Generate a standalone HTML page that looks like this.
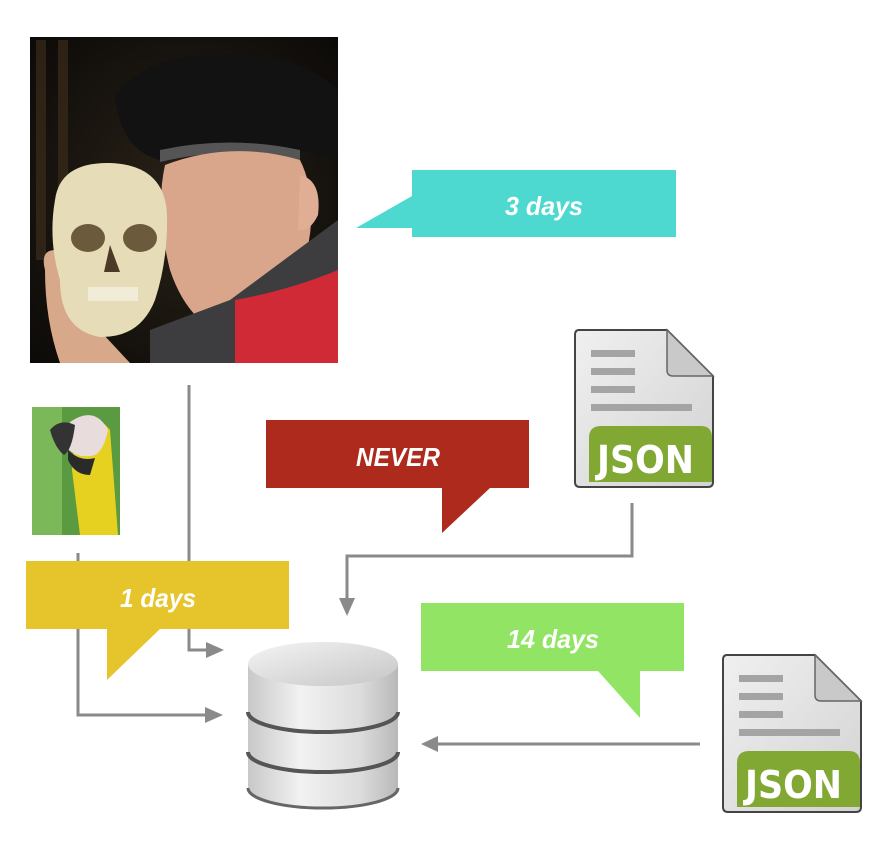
<!DOCTYPE html>
<html><head><meta charset="utf-8"><style>
html,body{margin:0;padding:0;background:#fff;}
svg{display:block}
text{font-family:"Liberation Sans",sans-serif;font-weight:bold;font-style:italic;fill:#fff}
</style></head><body>
<svg width="892" height="842" viewBox="0 0 892 842" xmlns="http://www.w3.org/2000/svg">
<defs>
<linearGradient id="cyl" x1="0" x2="1" y1="0" y2="0">
<stop offset="0" stop-color="#c8c8c8"/><stop offset="0.35" stop-color="#f2f2f2"/><stop offset="0.75" stop-color="#dcdcdc"/><stop offset="1" stop-color="#b8b8b8"/>
</linearGradient>
<linearGradient id="top" x1="0" x2="1" y1="0" y2="1">
<stop offset="0" stop-color="#f4f4f4"/><stop offset="1" stop-color="#c6c6c6"/>
</linearGradient>
<linearGradient id="doc" x1="0" x2="1" y1="0" y2="1">
<stop offset="0" stop-color="#f0f0f0"/><stop offset="1" stop-color="#d2d2d2"/>
</linearGradient>
<radialGradient id="bg" cx="0.5" cy="0.5" r="0.7"><stop offset="0" stop-color="#2a2218"/><stop offset="1" stop-color="#0c0a08"/></radialGradient>
<g id="json">
<path d="M4,0 H92 L138,46 V152 Q138,157 133,157 H5 Q0,157 0,152 V5 Q0,0 4,0Z" fill="url(#doc)" stroke="#444" stroke-width="2"/>
<path d="M92,0 V40 Q92,46 98,46 H138Z" fill="#c9c9c9" stroke="#666" stroke-width="1.5"/>
<rect x="16" y="20" width="44" height="7" fill="#a4a4a4"/>
<rect x="16" y="38" width="44" height="7" fill="#a4a4a4"/>
<rect x="16" y="56" width="44" height="7" fill="#a4a4a4"/>
<rect x="16" y="74" width="101" height="7" fill="#a4a4a4"/>
<path d="M14,108 Q14,96 26,96 H126 Q137,96 137,108 V152 H14Z" fill="#80a832"/>
<text x="22" y="143" textLength="97" lengthAdjust="spacingAndGlyphs" style="font-style:normal;font-family:'DejaVu Sans','Liberation Sans',sans-serif;font-size:38px;font-weight:bold">JSON</text>
</g>
</defs>

<!-- photo -->
<rect x="30" y="37" width="308" height="326" fill="url(#bg)"/>
<g fill="#3a2c1a" opacity="0.7">
<rect x="36" y="40" width="10" height="220"/><rect x="58" y="40" width="10" height="160"/><rect x="290" y="100" width="10" height="120"/>
</g>
<path d="M115,95 Q150,50 240,55 Q300,55 338,90 V160 L300,150 Q230,140 160,160 Q120,150 115,95Z" fill="#121212"/>
<path d="M160,150 Q230,135 300,150 L300,160 Q230,145 160,162Z" fill="#555"/>
<path d="M165,165 Q230,140 300,160 Q320,200 305,260 Q290,330 240,340 Q190,330 170,270 Q155,210 165,165Z" fill="#d9a68c"/>
<path d="M300,175 Q322,180 318,215 Q310,232 298,230Z" fill="#e0ae94"/>
<path d="M150,330 L230,300 L338,220 V363 H150Z" fill="#3d3d3f"/>
<path d="M235,300 Q290,290 338,270 V363 H235Z" fill="#cf2a36"/>
<path d="M45,270 Q40,250 55,250 L90,320 L130,363 H60 Q45,320 45,270Z" fill="#d7a88a"/>
<path d="M55,200 Q60,162 110,163 Q165,165 167,215 Q168,260 155,300 Q140,338 100,337 Q60,330 60,280 Q48,240 55,200Z" fill="#e6dcb8"/>
<ellipse cx="88" cy="238" rx="17" ry="14" fill="#6c5a3c"/><ellipse cx="140" cy="238" rx="17" ry="14" fill="#6c5a3c"/>
<path d="M110,245 L104,272 H120Z" fill="#4a3a26"/>
<rect x="88" y="287" width="50" height="14" fill="#f1ecd8"/>

<!-- parrot -->
<rect x="32" y="407" width="88" height="128" fill="#5a9a40"/>
<rect x="32" y="407" width="30" height="128" fill="#7ab85a"/>
<path d="M75,430 Q95,410 110,430 L118,535 H80 L72,470Z" fill="#e6d020"/>
<path d="M70,422 Q95,405 108,430 Q104,450 95,455 Q75,460 65,445Z" fill="#e8dcdc"/>
<path d="M50,430 Q60,418 75,425 Q72,450 64,455 Q55,448 50,430Z" fill="#333"/>
<path d="M68,450 Q80,462 95,458 L90,475 Q75,475 68,460Z" fill="#2a2a2a"/>

<!-- connectors -->
<g stroke="#8a8a8a" stroke-width="3" fill="none">
<polyline points="189,385 189,650 210,650"/>
<polyline points="78,553 78,715 210,715"/>
<polyline points="632,503 632,556 347,556 347,600"/>
<line x1="700" y1="744" x2="435" y2="744"/>
</g>
<g fill="#8a8a8a">
<polygon points="206,642 224,650 206,658"/>
<polygon points="205,707 223,715 205,723"/>
<polygon points="339,598 355,598 347,616"/>
<polygon points="438,736 421,744 438,752"/>
</g>

<!-- callouts -->
<polygon points="412,170 676,170 676,237 412,237 412,228 356,228 412,196" fill="#4dd9d0"/>
<text x="544" y="215" text-anchor="middle" font-size="26" textLength="78" lengthAdjust="spacingAndGlyphs">3 days</text>

<polygon points="266,420 529,420 529,488 490,488 442,533 442,488 266,488" fill="#ad2a1c"/>
<text x="398" y="466" text-anchor="middle" font-size="26" textLength="84" lengthAdjust="spacingAndGlyphs">NEVER</text>

<polygon points="26,561 289,561 289,629 160,629 107,680 107,629 26,629" fill="#e6c42c"/>
<text x="158" y="607" text-anchor="middle" font-size="26" textLength="76" lengthAdjust="spacingAndGlyphs">1 days</text>

<polygon points="421,603 684,603 684,671 640,671 640,718 598,671 421,671" fill="#92e564"/>
<text x="553" y="648" text-anchor="middle" font-size="26" textLength="92" lengthAdjust="spacingAndGlyphs">14 days</text>

<!-- database -->
<g>
<path d="M248,664 V788 A75,20 0 0 0 398,788 V664Z" fill="url(#cyl)"/>
<path d="M248,712 A75,20 0 0 0 398,712" stroke="#555" stroke-width="4" fill="none"/>
<path d="M248,752 A75,20 0 0 0 398,752" stroke="#555" stroke-width="4" fill="none"/>
<path d="M248,788 A75,20 0 0 0 398,788" stroke="#666" stroke-width="3" fill="none"/>
<ellipse cx="323" cy="664" rx="75" ry="22" fill="url(#top)"/>
</g>

<use href="#json" x="575" y="330"/>
<use href="#json" x="723" y="655"/>
</svg>
</body></html>
